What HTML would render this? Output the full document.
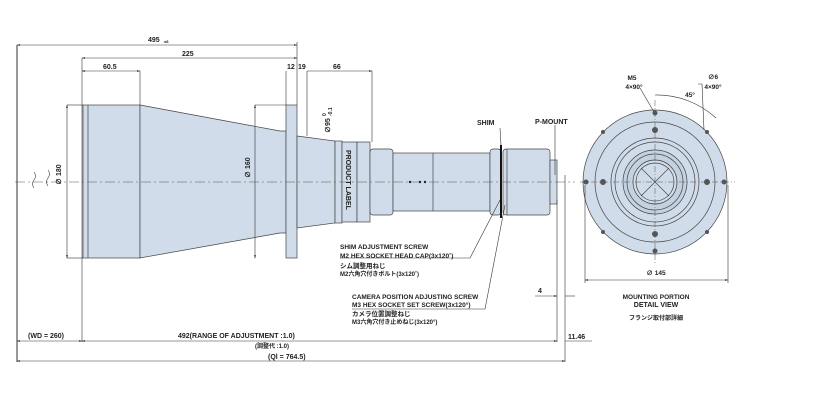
<!DOCTYPE html>
<html><head><meta charset="utf-8"><style>
body{margin:0;background:#fff}
svg{display:block}
text{font-family:"Liberation Sans","Noto Sans CJK JP",sans-serif;fill:#222}
</style></head><body>
<svg width="818" height="400" viewBox="0 0 818 400" xmlns="http://www.w3.org/2000/svg">
<defs><marker id="a" markerWidth="6" markerHeight="6" refX="5" refY="3" orient="auto-start-reverse"><path d="M0,1.5 L6,3 L0,4.5z" fill="#333"/></marker></defs>
<g stroke="#444" stroke-width="0.7" fill="#d0dcea">
<rect x="83" y="105" width="57" height="153"/>
<line x1="88" y1="105" x2="88" y2="258"/>
<path d="M140,105 L280,131 L286,131 L286,233 L280,233 L140,258z"/>
<rect x="286" y="105" width="11" height="153"/>
<path d="M297,136 L335,141 L335,223 L297,228z"/>
<rect x="335" y="141" width="7" height="82"/>
<rect x="342" y="142" width="15" height="80"/>
<rect x="357" y="142" width="13" height="80"/>
<rect x="370" y="149" width="23" height="66" rx="3"/>
<rect x="393" y="153" width="97" height="58"/>
<line x1="433" y1="153" x2="433" y2="211"/>
<rect x="490" y="149" width="11" height="66" rx="3"/>
<rect x="503" y="149" width="47" height="66" rx="3"/>
<line x1="507" y1="149" x2="507" y2="215"/>
<rect x="550" y="160" width="7" height="44"/>
</g>
<line x1="501" y1="145" x2="501" y2="218" stroke="#111" stroke-width="2"/>
<line x1="15" y1="182" x2="575" y2="182" stroke="#555" stroke-width="0.6" stroke-dasharray="10,3,2,3"/>
<g fill="#222"><circle cx="410" cy="182" r="1.2"/><circle cx="420" cy="182" r="1.2"/><circle cx="425" cy="182" r="1.2"/></g>
<text x="0" y="0" font-size="7" font-weight="bold" transform="translate(346,150) rotate(90)">PRODUCT LABEL</text>
<g stroke="#333" stroke-width="0.6" fill="none">
<line x1="17" y1="45" x2="17" y2="362" stroke-width="1"/>
<line x1="17" y1="45" x2="297" y2="45" marker-start="url(#a)" marker-end="url(#a)"/>
<line x1="297" y1="42" x2="297" y2="105"/>
<line x1="82" y1="58" x2="297" y2="58" marker-start="url(#a)" marker-end="url(#a)"/>
<line x1="82" y1="58" x2="82" y2="342"/>
<line x1="82" y1="71" x2="140" y2="71" marker-start="url(#a)" marker-end="url(#a)"/>
<line x1="140" y1="71" x2="140" y2="105"/>
<line x1="286" y1="71" x2="286" y2="105"/>
<line x1="307" y1="71" x2="372" y2="71" marker-end="url(#a)"/>
<line x1="307" y1="71" x2="307" y2="136"/>
<line x1="372" y1="71" x2="372" y2="142"/>
<line x1="67" y1="105" x2="67" y2="258" marker-start="url(#a)" marker-end="url(#a)"/>
<line x1="67" y1="105" x2="83" y2="105"/><line x1="67" y1="258" x2="83" y2="258"/>
<line x1="255" y1="105" x2="255" y2="258" marker-start="url(#a)" marker-end="url(#a)"/>
<line x1="255" y1="105" x2="286" y2="105"/>
<line x1="557" y1="200" x2="557" y2="342"/>
<line x1="565" y1="175" x2="565" y2="362"/>
<line x1="535" y1="296" x2="557" y2="296" marker-end="url(#a)"/>
<line x1="565" y1="296" x2="575" y2="296"/>
<line x1="17" y1="341" x2="82" y2="341" marker-start="url(#a)" marker-end="url(#a)"/>
<line x1="82" y1="341" x2="557" y2="341" marker-start="url(#a)" marker-end="url(#a)"/>
<line x1="565" y1="341" x2="592" y2="341"/>
<line x1="17" y1="361" x2="565" y2="361" marker-start="url(#a)" marker-end="url(#a)"/>
<path d="M34,172 q3,4 0,8 q-3,4 0,8 M48,170 q3,4 0,8 q-3,4 0,8"/>
<path d="M470,258 L500,200 M500,128 L501,145 M555,125 L555,175 M340,258 L470,258 M352,309 L485,309 L505,205"/>
</g>
<g font-size="7" font-weight="bold">
<text x="148" y="42">495</text><text x="164" y="43" font-size="4">±8</text>
<text x="182" y="56">225</text>
<text x="103" y="69">60.5</text>
<text x="287" y="69">12</text><text x="298" y="69">19</text>
<text x="333" y="69">66</text>
<text x="477" y="125">SHIM</text>
<text x="535" y="124">P-MOUNT</text>
<text x="0" y="0" transform="translate(61,185) rotate(-90)">∅ 180</text>
<text x="0" y="0" transform="translate(250,178) rotate(-90)">∅ 160</text>
<text x="0" y="0" transform="translate(330,133) rotate(-90)">∅95</text>
<text x="0" y="0" font-size="5" transform="translate(326,116) rotate(-90)">0</text>
<text x="0" y="0" font-size="5" transform="translate(332,116) rotate(-90)">-0.1</text>
<text x="340" y="249" font-size="6.5">SHIM ADJUSTMENT SCREW</text>
<text x="340" y="258" font-size="6.5">M2 HEX SOCKET HEAD CAP(3x120˚)</text>
<text x="340" y="268" font-size="6.5">シム調整用ねじ</text>
<text x="340" y="276" font-size="6">M2六角穴付きボルト(3x120˚)</text>
<text x="352" y="299" font-size="6.5">CAMERA POSITION ADJUSTING SCREW</text>
<text x="352" y="307" font-size="6.5">M3 HEX SOCKET SET SCREW(3x120°)</text>
<text x="352" y="316" font-size="6.5">カメラ位置調整ねじ</text>
<text x="352" y="324" font-size="6">M3六角穴付き止めねじ(3x120°)</text>
<text x="538" y="293">4</text>
<text x="568" y="339">11.46</text>
<text x="28" y="338">(WD = 260)</text>
<text x="178" y="338">492(RANGE OF ADJUSTMENT :1.0)</text>
<text x="255" y="348" font-size="6">(調整代 :1.0)</text>
<text x="268" y="359">(Ql = 764.5)</text>
</g>
<g stroke="#444" stroke-width="0.7" fill="#d0dcea">
<circle cx="655" cy="182" r="72"/>
<circle cx="655" cy="182" r="60" fill="none"/>
<circle cx="655" cy="182" r="44" fill="none"/>
<circle cx="655" cy="182" r="40" fill="none"/>
<circle cx="655" cy="182" r="32" fill="#c4d1e0"/>
<circle cx="655" cy="182" r="28" fill="none"/>
<circle cx="655" cy="182" r="22" fill="#d0dcea"/>
<circle cx="655" cy="182" r="19" fill="none"/>
<path d="M641,168 L669,196 M669,168 L641,196" fill="none"/>
</g>
<g stroke="#555" stroke-width="0.5" stroke-dasharray="6,2,1,2"><line x1="580" y1="182" x2="735" y2="182"/><line x1="655" y1="100" x2="655" y2="265"/></g>
<g fill="#555">
<circle cx="655" cy="113" r="2.5"/><circle cx="655" cy="251" r="2.5"/><circle cx="586" cy="182" r="2.5"/><circle cx="724" cy="182" r="2.5"/>
<circle cx="655" cy="130" r="3"/><circle cx="655" cy="234" r="3"/><circle cx="603" cy="182" r="3"/><circle cx="707" cy="182" r="3"/>
<circle cx="603" cy="132" r="2"/><circle cx="707" cy="132" r="2"/><circle cx="603" cy="232" r="2"/><circle cx="707" cy="232" r="2"/>
</g>
<g stroke="#333" stroke-width="0.6" fill="none">
<line x1="585" y1="185" x2="585" y2="283"/><line x1="728" y1="185" x2="728" y2="283"/>
<line x1="585" y1="280" x2="728" y2="280" marker-start="url(#a)" marker-end="url(#a)"/>
<path d="M640,88 L654,112 M698,84 L702,84 L704,130 M655,95 A88,88 0 0 1 716,118"/>
</g>
<g font-size="6.5" font-weight="bold" text-anchor="middle">
<text x="632" y="80">M5</text><text x="634" y="89">4×90°</text>
<text x="713" y="79">∅6</text><text x="713" y="89">4×90°</text>
<text x="690" y="97">45°</text>
<text x="656" y="275">∅ 145</text>
<text x="656" y="299">MOUNTING PORTION</text>
<text x="656" y="307" font-size="7">DETAIL VIEW</text>
<text x="656" y="320" font-size="6">フランジ取付部詳細</text>
</g>
</svg>
</body></html>
